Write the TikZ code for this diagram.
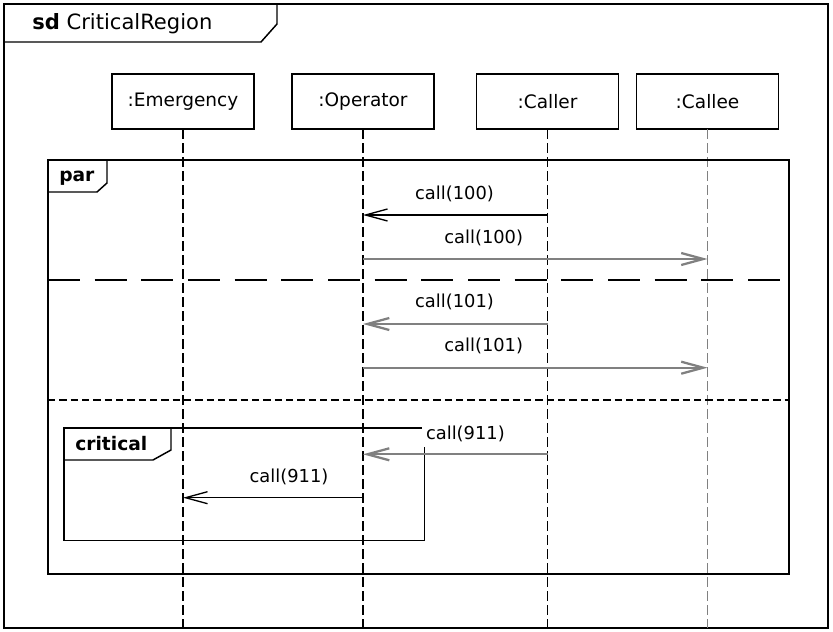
\documentclass[tikz,border=0pt]{standalone}
\usepackage{fontspec}
\setmainfont{DejaVu Sans}
\usepackage{tikz}
\usetikzlibrary{arrows.meta}
\usetikzlibrary{positioning}
\definecolor{msggray}{gray}{0.5}
\tikzstyle{obj} = [draw=black, line width=1.1pt, minimum width=106.5pt, minimum
height=41.25pt, inner sep=0pt, outer sep=0pt, font=\fontsize{13.9}{16}\selectfont]
\tikzstyle{lifeline} = [line width=1.2pt, dash pattern=on 7.5pt off 3pt]
\tikzstyle{frame} = [draw=black, line width=1.1pt]
\tikzstyle{msg} = [line width=1pt, -{Straight Barb[length=16.5pt,width=9pt]}]
\tikzstyle{graymsg} = [msg, draw=msggray, line width=1.7pt]
\tikzstyle{msglabel} = [anchor=base, inner sep=0pt, font=\fontsize{13.4}{16}\selectfont]
\tikzstyle{tag} = [anchor=base west, inner sep=0pt, font=\bfseries\fontsize{14}{16}\selectfont]

\begin{document}
\begin{tikzpicture}[x=0.75pt, y=-0.75pt]
  \useasboundingbox (0,0) rectangle (833,632);

  % outer frame
  \draw[frame] (4,4) rectangle (828,628);
  \draw[frame] (4,42) -- (261,42) -- (277,24) -- (277,4);
  \node (sdname) [anchor=base west, inner sep=0pt, font=\fontsize{15.8}{18}\selectfont]
  at (32,29.5) {\textbf{sd} CriticalRegion};

  % lifelines
  \node (emergency) [obj] at (183,101.5) {:Emergency};
  \node (operator) [obj, right=28.5pt of emergency] {:Operator};
  \node (caller) [obj, right=31.9pt of operator] {:Caller};
  \node (callee) [obj, right=13.5pt of caller] {:Callee};
  \coordinate (bottom) at (0,628);

  \draw[lifeline] (emergency) -- (emergency |- bottom);
  \draw[lifeline] (operator) -- (operator |- bottom);
  \draw[lifeline] (caller) -- (caller |- bottom);
  \draw[lifeline, draw=msggray] (callee) -- (callee |- bottom);

  % par fragment
  \draw[frame] (48,160) rectangle (789,574);
  \draw[frame] (48,192) -- (97,192) -- (107,183) -- (107,160);
  \node (par) [tag] at (59,181) {par};
  \draw[line width=1.1pt, dash pattern=on 24pt off 11pt] (48,280) -- (789,280);
  \draw[line width=1.1pt, dash pattern=on 5.5pt off 3pt] (48,400) -- (789,400);

  % operand 1
  \coordinate (c1) at (caller |- 0,215);
  \coordinate (o1) at (operator |- 0,215);
  \draw[msg] (c1) -- (o1);
  \node (l1) [msglabel] at (454.5,199) {call(100)};
  \coordinate (o2) at (operator |- 0,259);
  \coordinate (e2) at (callee |- 0,259);
  \draw[graymsg] (o2) -- (e2);
  \node (l2) [msglabel] at (483.7,243) {call(100)};

  % operand 2
  \coordinate (c3) at (caller |- 0,324);
  \coordinate (o3) at (operator |- 0,324);
  \draw[graymsg] (c3) -- (o3);
  \node (l3) [msglabel] at (454.5,307.5) {call(101)};
  \coordinate (o4) at (operator |- 0,367.7);
  \coordinate (e4) at (callee |- 0,367.7);
  \draw[graymsg] (o4) -- (e4);
  \node (l4) [msglabel] at (483.7,351.5) {call(101)};

  % operand 3 with critical region
  \draw[frame] (64,428) rectangle (424.7,540.7);
  \draw[frame] (64,460) -- (153,460) -- (171,450) -- (171,428);
  \node (critical) [tag] at (75,450) {critical};
  \coordinate (c5) at (caller |- 0,454.3);
  \coordinate (o5) at (operator |- 0,454.3);
  \draw[graymsg] (c5) -- (o5);
  \node (l5) [msglabel, fill=white, inner xsep=3pt, inner ysep=4.3pt] at (465.4,439) {call(911)};
  \coordinate (o6) at (operator |- 0,497.7);
  \coordinate (m6) at (emergency |- 0,497.7);
  \draw[msg] (o6) -- (m6);
  \node (l6) [msglabel] at (289,482) {call(911)};

\end{tikzpicture}
\end{document}
